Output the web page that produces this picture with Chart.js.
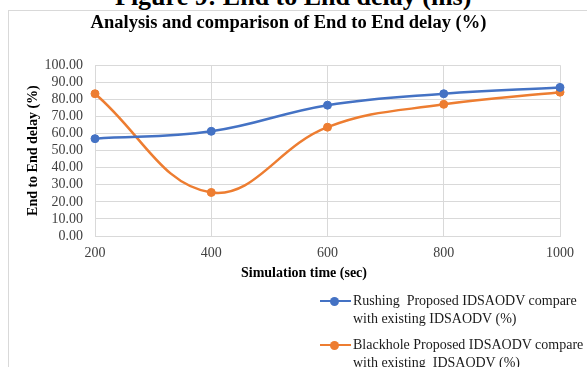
<!DOCTYPE html>
<html>
<head>
<meta charset="utf-8">
<script src="https://cdn.jsdelivr.net/npm/chart.js@4.4.1/dist/chart.umd.min.js"></script>
<style>
    body {
        margin: 0;
        width: 587px;
        height: 367px;
        overflow: hidden;
        background: #ffffff;
        position: relative;
        font-family: "Liberation Serif", "Times New Roman", serif;
    }
    #figureHeading {
        position: absolute;
        left: 115px;
        top: -16px;
        font-size: 26px;
        line-height: 26px;
        font-weight: bold;
        white-space: nowrap;
        color: #000000;
    }
    #chartBox {
        position: absolute;
        left: 8px;
        top: 10px;
        width: 600px;
        height: 380px;
        border-left: 1px solid #d9d9d9;
        border-top: 1px solid #d9d9d9;
    }
    #chartWrap {
        position: absolute;
        left: 9px;
        top: 11px;
        width: 578px;
        height: 356px;
    }
    #xTitle {
        position: absolute;
        left: 241px;
        top: 265px;
        font-size: 14px;
        line-height: 16px;
        font-weight: bold;
        white-space: nowrap;
        color: #000000;
    }
    .legendItem {
        position: absolute;
        left: 320px;
        font-size: 14px;
        line-height: 18px;
        color: #1a1a1a;
    }
    .legendItem .mark {
        position: absolute;
        left: 0;
        top: 7.5px;
        width: 31px;
        height: 2.5px;
    }
    .legendItem .dot {
        position: absolute;
        left: 10px;
        top: 4.5px;
        width: 9px;
        height: 9px;
        border-radius: 50%;
    }
    .legendItem .text {
        margin-left: 33px;
        white-space: pre;
    }
</style>
</head>
<body>

<div id="figureHeading">Figure 9: End to End delay (ms)</div>
<div id="chartBox"></div>
<div id="chartWrap"><canvas id="delayChart"></canvas></div>
<div id="xTitle">Simulation time (sec)</div>
<div id="legend"></div>

<script>

    // simulation time (sec)
    const simTimes = ["200", "400", "600", "800", "1000"];

    // end to end delay (%)
    const rushingDelay = [57.0, 61.3, 76.6, 83.3, 87.0];
    const blackholeDelay = [83.3, 25.5, 63.7, 77.1, 84.2];

    const yTicks = [0, 10, 20, 30, 40, 50, 60, 70, 80, 90, 100];

    const seriesNames = [
        ["Rushing  Proposed IDSAODV compare", "with existing IDSAODV (%)"],
        ["Blackhole Proposed IDSAODV compare", "with existing  IDSAODV (%)"]
    ];

    const COLORS = {
        rushing: "#4472c4",
        blackhole: "#ed7d31",
        grid: "#d9d9d9",
        ticks: "#404040"
    };

    const SERIF = "'Liberation Serif', 'Times New Roman', serif";

    function lineSet(label, data, color) {

        return {
            label: label.join(" "),
            data: data,
            borderColor: color,
            backgroundColor: color,
            borderWidth: 2.5,
            pointRadius: 4,
            pointBorderWidth: 1,
            pointHoverRadius: 5,
            tension: 0.4,
            fill: false
        };

    }

    const chart = new Chart(document.getElementById("delayChart").getContext("2d"), {

        type: "line",

        data: {
            labels: simTimes,
            datasets: [
                lineSet(seriesNames[0], rushingDelay, COLORS.rushing),
                lineSet(seriesNames[1], blackholeDelay, COLORS.blackhole)
            ]
        },

        options: {

            responsive: true,
            maintainAspectRatio: false,
            animation: false,

            layout: {
                padding: { left: 8, right: 27, top: 0, bottom: 101 }
            },

            plugins: {

                legend: { display: false },

                tooltip: { enabled: false },

                title: {
                    display: true,
                    text: "Analysis and comparison of End to End delay (%)",
                    color: "#000000",
                    font: { family: SERIF, size: 18.5, weight: "bold" },
                    padding: { top: 1, bottom: 31 }
                }

            },

            scales: {

                x: {
                    type: "category",
                    offset: false,
                    afterFit: scale => { scale.height = 30; },
                    grid: {
                        color: COLORS.grid,
                        lineWidth: 1,
                        offset: false,
                        drawTicks: false
                    },
                    border: { color: COLORS.grid, width: 1 },
                    ticks: {
                        color: COLORS.ticks,
                        padding: 9,
                        maxRotation: 0,
                        autoSkip: false,
                        font: { family: SERIF, size: 14 }
                    }
                },

                y: {
                    min: 0,
                    max: 100,
                    afterFit: scale => { scale.width = 78; },
                    afterBuildTicks: scale => {
                        scale.ticks = yTicks.map(v => ({ value: v }));
                    },
                    grid: {
                        color: COLORS.grid,
                        lineWidth: 1,
                        drawTicks: false
                    },
                    border: { color: COLORS.grid, width: 1 },
                    ticks: {
                        color: COLORS.ticks,
                        padding: 12,
                        autoSkip: false,
                        font: { family: SERIF, size: 14 },
                        callback: value => Number(value).toFixed(2)
                    },
                    title: {
                        display: true,
                        text: "End to End delay (%)",
                        color: "#000000",
                        font: { family: SERIF, size: 14, weight: "bold" },
                        padding: { top: 8, bottom: 0 }
                    }
                }

            }

        }

    });

    // legend drawn as html from the chart's datasets
    const legendTops = [292, 336];

    chart.data.datasets.forEach((ds, i) => {

        const item = document.createElement("div");
        item.className = "legendItem";
        item.style.top = legendTops[i] + "px";

        const mark = document.createElement("span");
        mark.className = "mark";
        mark.style.background = ds.borderColor;

        const dot = document.createElement("span");
        dot.className = "dot";
        dot.style.background = ds.borderColor;

        const text = document.createElement("div");
        text.className = "text";
        text.textContent = seriesNames[i].join("\n");

        item.appendChild(mark);
        item.appendChild(dot);
        item.appendChild(text);
        document.getElementById("legend").appendChild(item);

    });

</script>
</body>
</html>
